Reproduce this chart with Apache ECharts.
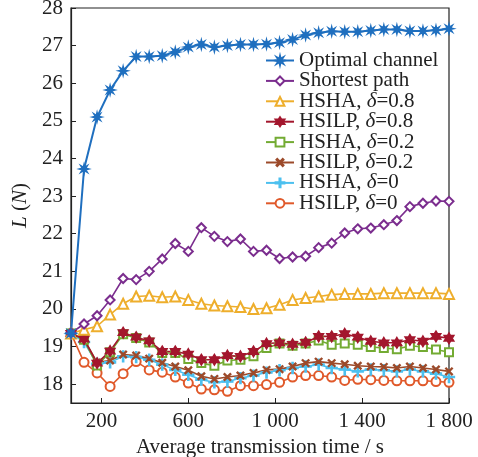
<!DOCTYPE html>
<html>
<head>
<meta charset="utf-8">
<script src="https://cdn.jsdelivr.net/npm/echarts@6/dist/echarts.min.js"></script>
<style>html,body{margin:0;padding:0;background:#fff;}#c{width:478px;height:457px;}</style>
</head>
<body>
<div id="c"></div>
<script>
const xValues = [60,120,180,240,300,360,420,480,540,600,660,720,780,840,900,960,1020,1080,1140,1200,1260,1320,1380,1440,1500,1560,1620,1680,1740,1800];
const xTicks = [200,600,1000,1400,1800];
const yTicks = [18,19,20,21,22,23,24,25,26,27,28];
const seriesNames = ['Optimal channel','Shortest path','HSHA, δ=0.8','HSILP, δ=0.8','HSHA, δ=0.2','HSILP, δ=0.2','HSHA, δ=0','HSILP, δ=0'];
const optimal = [19.35,23.72,25.10,25.82,26.33,26.71,26.71,26.73,26.83,26.96,27.03,26.96,27.00,27.03,27.03,27.04,27.08,27.16,27.28,27.34,27.38,27.37,27.37,27.40,27.43,27.43,27.39,27.39,27.41,27.45];
const shortest = [19.36,19.60,19.82,20.24,20.81,20.78,21.00,21.33,21.74,21.53,22.16,21.93,21.79,21.86,21.53,21.56,21.34,21.38,21.40,21.63,21.75,22.02,22.13,22.15,22.24,22.35,22.72,22.81,22.87,22.86];
const hsha08 = [19.35,19.45,19.54,19.85,20.14,20.33,20.35,20.31,20.33,20.24,20.14,20.09,20.07,20.05,20.00,20.02,20.11,20.24,20.29,20.33,20.38,20.40,20.40,20.40,20.42,20.42,20.42,20.42,20.42,20.40];
const hsilp08 = [19.35,19.20,18.56,18.88,19.37,19.25,19.15,18.87,18.87,18.80,18.65,18.65,18.76,18.74,18.87,19.08,19.10,19.06,19.11,19.27,19.27,19.34,19.25,19.14,19.10,19.10,19.18,19.14,19.27,19.22];
const hsha02 = [19.35,19.18,18.50,18.85,19.33,19.23,19.11,18.83,18.83,18.67,18.56,18.49,18.63,18.65,18.74,18.96,19.08,19.02,19.08,19.16,19.05,19.08,19.05,18.99,18.96,18.93,19.02,18.99,18.92,18.85];
const hsilp02 = [19.35,19.20,18.58,18.63,18.79,18.76,18.68,18.57,18.47,18.37,18.21,18.14,18.19,18.23,18.30,18.38,18.40,18.47,18.56,18.60,18.56,18.53,18.49,18.47,18.46,18.43,18.47,18.43,18.39,18.34];
const hsha0 = [19.35,19.12,18.54,18.58,18.74,18.72,18.65,18.52,18.38,18.25,18.12,18.05,18.07,18.16,18.23,18.31,18.37,18.43,18.47,18.52,18.43,18.39,18.34,18.39,18.37,18.34,18.39,18.34,18.28,18.19];
const hsilp0 = [19.35,18.58,18.30,17.94,18.28,18.60,18.38,18.32,18.19,18.03,17.87,17.85,17.81,17.96,17.96,17.99,18.05,18.19,18.23,18.23,18.19,18.10,18.13,18.12,18.10,18.09,18.09,18.09,18.07,18.05];

const FONT = 'Liberation Serif';
const star8 = 'path://M0,-5L0.765,-1.848L3.536,-3.536L1.848,-0.765L5,0L1.848,0.765L3.536,3.536L0.765,1.848L0,5L-0.765,1.848L-3.536,3.536L-1.848,0.765L-5,0L-1.848,-0.765L-3.536,-3.536L-0.765,-1.848Z';
const star6 = 'path://M0,-5L1.443,-2.5L4.33,-2.5L2.887,0L4.33,2.5L1.443,2.5L0,5L-1.443,2.5L-4.33,2.5L-2.887,0L-4.33,-2.5L-1.443,-2.5Z';
const plus = 'path://M-0.6,-5L0.6,-5L0.6,-0.6L5,-0.6L5,0.6L0.6,0.6L0.6,5L-0.6,5L-0.6,0.6L-5,0.6L-5,-0.6L-0.6,-0.6Z';

function mk(name, data, color, symbol, size, extra) {
  return Object.assign({
    name: name,
    type: 'line',
    data: xValues.map((x, i) => [x, data[i]]),
    color: color,
    symbol: symbol,
    symbolSize: size,
    showAllSymbol: true,
    lineStyle: { color: color, width: 1.6 },
    itemStyle: { color: color, borderColor: color, borderWidth: 1.3 }
  }, extra || {});
}

const allData = [optimal, shortest, hsha08, hsilp08, hsha02, hsilp02, hsha0, hsilp0];
const colors = ['#1f6fbf','#7b2d8e','#eeae2c','#a3162d','#73ab33','#9c4a2a','#4cc0ef','#e0592a'];
const symbols = [star8,'emptyDiamond','emptyTriangle',star6,'emptyRect',plus,plus,'emptyCircle'];
const sizes = [10,9,10,[10,11],8,9,11,9];

const series = seriesNames.map((n, k) => {
  const extra = {};
  if (k === 5) extra.symbolRotate = 45;
  if (k === 0) extra.lineStyle = { color: colors[0], width: 2 };
  return mk(n, allData[k], colors[k], symbols[k], sizes[k], extra);
}).reverse();

const chart = echarts.init(document.getElementById('c'), null, { renderer: 'canvas' });
chart.setOption({
  animation: false,
  backgroundColor: '#fff',
  grid: { left: 71, right: 29, top: 8, bottom: 54, show: true, borderColor: '#222', borderWidth: 1.2, containLabel: false, outerBoundsMode: 'none' },
  legend: {
    data: seriesNames,
    orient: 'vertical',
    left: 265,
    top: 50,
    itemWidth: 28,
    itemHeight: 11,
    itemGap: -0.6,
    padding: 0,
    textStyle: { fontFamily: FONT, fontSize: 21, lineHeight: 20, color: '#222',
      rich: { i: { fontFamily: FONT, fontSize: 21, fontStyle: 'italic', color: '#222', lineHeight: 20 } } },
    formatter: n => n.replace('δ', '{i|δ}')
  },
  xAxis: {
    type: 'value', min: 60, max: 1800,
    name: 'Average transmission time / s',
    nameLocation: 'middle', nameGap: 27,
    nameTextStyle: { fontFamily: FONT, fontSize: 21, color: '#222' },
    axisLine: { lineStyle: { color: '#222', width: 1.2 } },
    axisTick: { inside: true, length: 5, lineStyle: { color: '#222' }, customValues: xTicks },
    axisLabel: { customValues: xTicks, fontFamily: FONT, fontSize: 21, color: '#222', margin: 8,
      formatter: v => v >= 1000 ? String(v).slice(0, 1) + ' ' + String(v).slice(1) : String(v) },
    splitLine: { show: false }
  },
  yAxis: {
    type: 'value', min: 17.5, max: 28,
    name: '{i|L} ({i|N})',
    nameLocation: 'middle', nameGap: 34, nameRotate: 90,
    nameTextStyle: { fontFamily: FONT, fontSize: 21, color: '#222',
      rich: { i: { fontFamily: FONT, fontSize: 21, fontStyle: 'italic', color: '#222' } } },
    axisLine: { show: true, lineStyle: { color: '#222', width: 1.2 } },
    axisTick: { show: true, inside: true, length: 5, lineStyle: { color: '#222' }, customValues: yTicks },
    axisLabel: { customValues: yTicks, fontFamily: FONT, fontSize: 21, color: '#222', margin: 8 },
    splitLine: { show: false }
  },
  series: series
});
</script>
</body>
</html>
